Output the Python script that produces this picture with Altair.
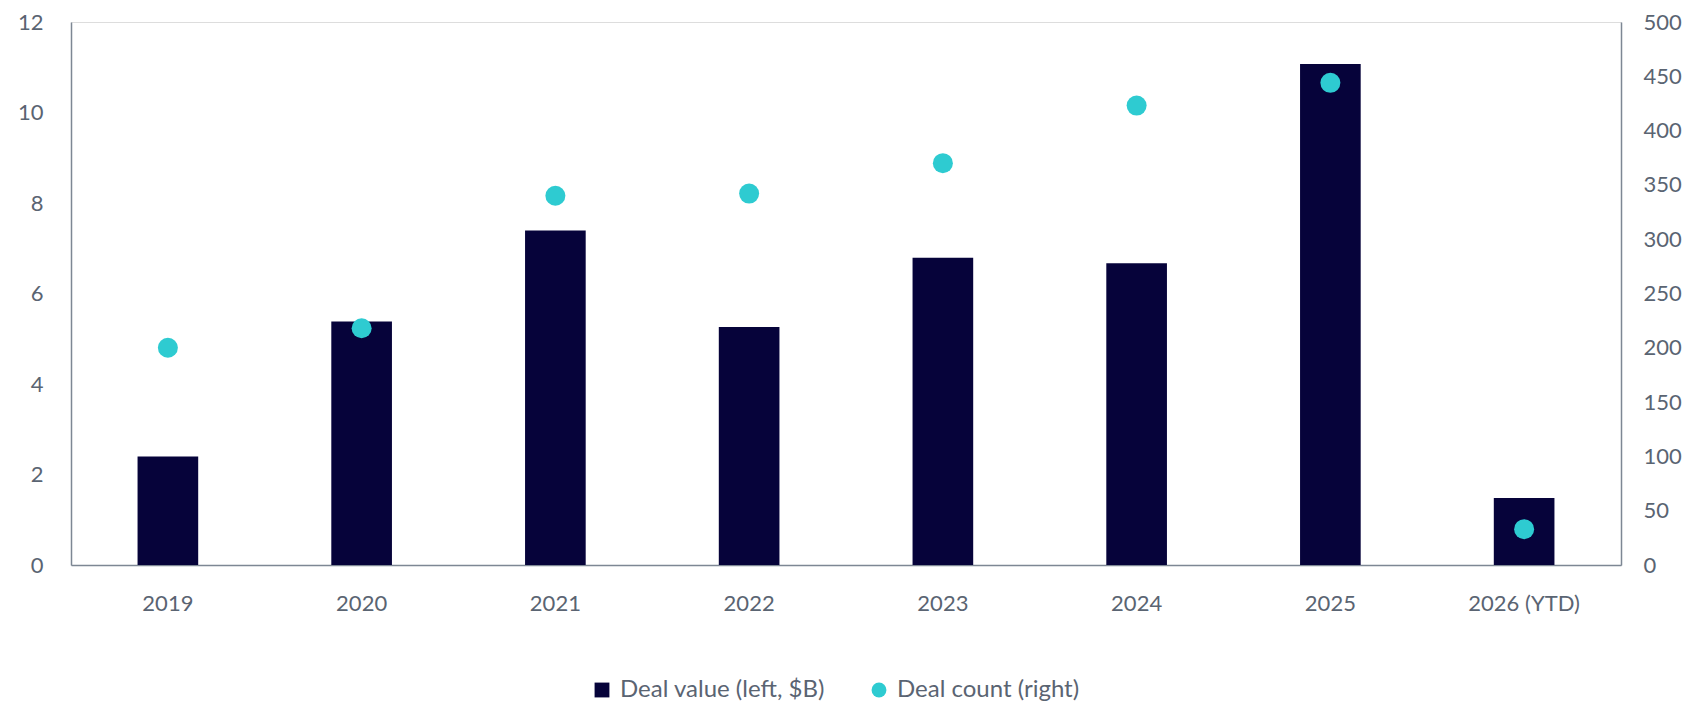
import altair as alt
import pandas as pd

years = ["2019", "2020", "2021", "2022", "2023", "2024", "2025", "2026 (YTD)"]
deal_value = [2.4, 5.38, 7.39, 5.26, 6.79, 6.67, 11.07, 1.48]
deal_count = [200, 218, 340, 342, 370, 423, 444, 33]

S1 = "Deal value (left, $B)"
S2 = "Deal count (right)"

df = pd.DataFrame({"year": years, "value": deal_value, "count": deal_count})
df["s1"] = S1
df["s2"] = S2

NAVY = "#06033a"
TEAL = "#2ecbd1"
LABEL = "#5a6472"
AXIS = "#7d8794"
FONT = "Lato"

xenc = alt.X(
    "year:N",
    sort=years,
    scale=alt.Scale(paddingInner=0.687, paddingOuter=0.3435),
    axis=alt.Axis(title=None, labelAngle=0, ticks=False, labelPadding=28,
                  domainColor=AXIS, domainWidth=1.5, labelColor=LABEL,
                  labelFontSize=22, labelFont=FONT),
)

color_scale = alt.Scale(domain=[S1, S2], range=[NAVY, TEAL])
legend = alt.Legend(title=None, orient="none", direction="horizontal",
                    legendX=519, legendY=656, labelFont=FONT, labelFontSize=24,
                    labelColor=LABEL, symbolSize=220, columnPadding=42,
                    symbolStrokeWidth=0, labelOffset=6, labelLimit=0)

bars = alt.Chart(df).mark_bar().encode(
    x=xenc,
    y=alt.Y("value:Q", scale=alt.Scale(domain=[0, 12], nice=False),
            axis=alt.Axis(title=None, values=[0, 2, 4, 6, 8, 10, 12], ticks=False,
                          grid=False, labelPadding=28, domainColor=AXIS, domainWidth=1.5,
                          labelColor=LABEL, labelFontSize=22, labelFont=FONT,
                          orient="left")),
    color=alt.Color("s1:N", scale=color_scale, legend=legend),
)

points = alt.Chart(df).mark_point(filled=True, size=400, opacity=1).encode(
    x=xenc,
    y=alt.Y("count:Q", scale=alt.Scale(domain=[0, 500], nice=False),
            axis=alt.Axis(title=None, values=list(range(0, 501, 50)), ticks=False,
                          grid=False, labelPadding=22, domainColor=AXIS, domainWidth=1.5,
                          labelColor=LABEL, labelFontSize=22, labelFont=FONT,
                          orient="right", labelAlign="left")),
    color=alt.Color("s2:N", scale=color_scale, legend=legend),
    shape=alt.Shape("s2:N", scale=alt.Scale(domain=[S1, S2], range=["square", "circle"]),
                    legend=legend),
)

chart = alt.layer(bars, points).resolve_scale(y="independent").properties(
    width=1550, height=543,
    autosize=alt.AutoSizeParams(type="none"),
    padding={"left": 71, "top": 22, "right": 77, "bottom": 142},
).configure_view(stroke=None).configure(background="white")

chart.save("out.html", embed_options={"renderer": "svg", "actions": False})
